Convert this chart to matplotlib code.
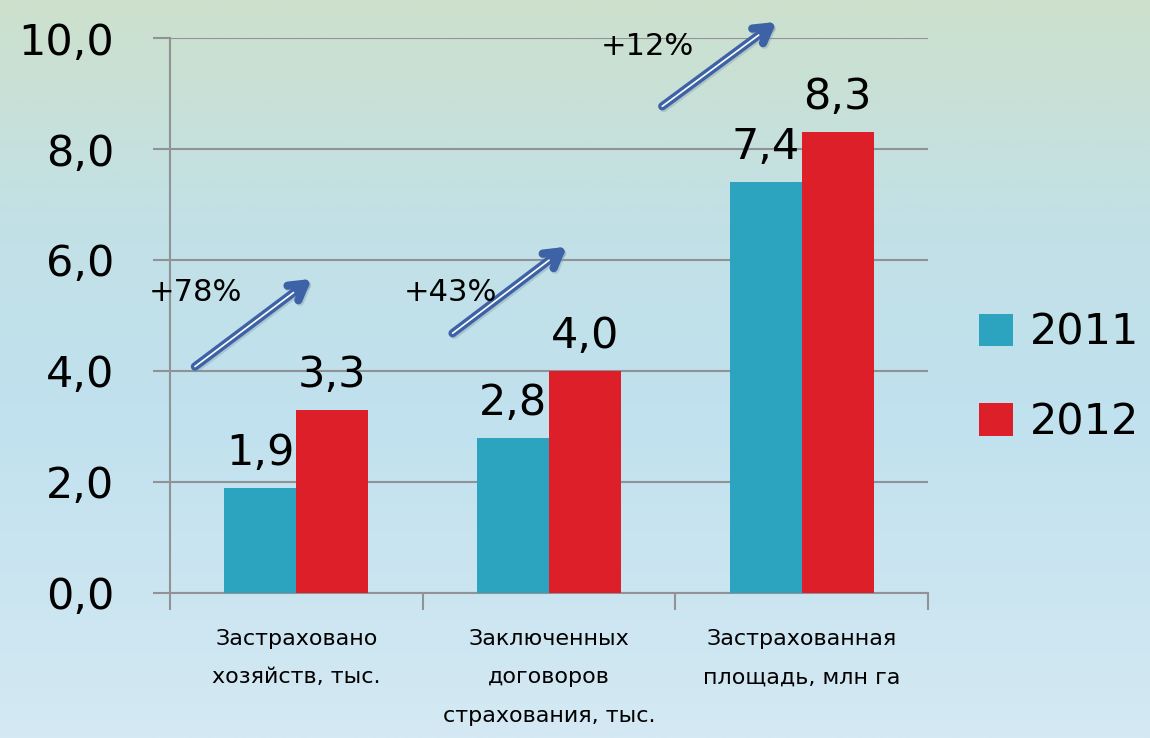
import matplotlib.pyplot as plt
import numpy as np
from matplotlib.colors import LinearSegmentedColormap

categories = ['Застраховано\nхозяйств, тыс.', 'Заключенных\nдоговоров\nстрахования, тыс.', 'Застрахованная\nплощадь, млн га']
years = ['2011', '2012']
v2011 = [1.9, 2.8, 7.4]
v2012 = [3.3, 4.0, 8.3]
growth = ['+78%', '+43%', '+12%']
# arrow start/end and text position (data coords)
arrow_from = [(-0.41, 4.05), (0.61, 4.65), (1.44, 8.74)]
arrow_to = [(0.07, 5.69), (1.08, 6.27), (1.91, 10.32)]
text_pos = [(-0.40, 5.42), (0.61, 5.41), (1.39, 9.84)]

c11 = '#2ca3bf'
c12 = '#dc1f28'
grid_c = '#8f9396'

fig = plt.figure(figsize=(11.5, 7.38), dpi=100)

# background gradient
bg = fig.add_axes([0, 0, 1, 1], zorder=-10)
cmap = LinearSegmentedColormap.from_list('bg', [(0, '#cde0cc'), (0.3, '#c2e0e6'), (0.55, '#c0e1ee'), (1, '#d4e9f3')])
bg.imshow(np.linspace(0, 1, 256).reshape(-1, 1), aspect='auto', cmap=cmap, extent=[0, 1, 0, 1])
bg.axis('off')

ax = fig.add_axes([0.1478, 0.1965, 0.659, 0.752])
ax.patch.set_alpha(0)
x = np.arange(len(categories))
w = 0.285
b1 = ax.bar(x - w / 2, v2011, w, color=c11, label=years[0], zorder=3)
b2 = ax.bar(x + w / 2, v2012, w, color=c12, label=years[1], zorder=3)

for bars, vals in ((b1, v2011), (b2, v2012)):
    for r, v in zip(bars, vals):
        ax.text(r.get_x() + r.get_width() / 2, v + 0.25, f'{v:.1f}'.replace('.', ','),
                ha='center', va='bottom', fontsize=31, zorder=5)

ax.set_xlim(-0.5, 2.5)
ax.set_ylim(0, 10)
ax.set_yticks(np.arange(0, 10.1, 2))
ax.set_yticklabels([f'{t:.1f}'.replace('.', ',') for t in np.arange(0, 10.1, 2)], fontsize=31)
ax.grid(axis='y', color=grid_c, lw=1.5, zorder=0)
ax.tick_params(axis='y', length=12, width=1.5, color=grid_c, pad=28)
ax.set_xticks(x)
ax.set_xticklabels(categories, fontsize=16, linespacing=2.15, va='top')
ax.tick_params(axis='x', length=0, pad=26)
ax.set_xticks([-0.5, 0.5, 1.5, 2.5], minor=True)
ax.tick_params(axis='x', which='minor', length=12, width=1.5, color=grid_c)
for s in ['top', 'right']:
    ax.spines[s].set_visible(False)
for s in ['left', 'bottom']:
    ax.spines[s].set_color(grid_c)
    ax.spines[s].set_linewidth(1.5)

astyle = '->,head_length=1.1,head_width=0.65'
for (x0, y0), (x1, y1), (tx, ty), g in zip(arrow_from, arrow_to, text_pos, growth):
    ax.annotate('', xy=(x1 + 0.006, y1 - 0.03), xytext=(x0 + 0.006, y0 - 0.03),
                arrowprops=dict(arrowstyle=astyle, lw=6, color='#7d97a8', alpha=0.35),
                annotation_clip=False, zorder=5)
    ax.annotate('', xy=(x1, y1), xytext=(x0, y0),
                arrowprops=dict(arrowstyle=astyle, lw=6, color='#3d63a6'),
                annotation_clip=False, zorder=6)
    ax.annotate('', xy=(x0 + (x1 - x0) * 0.85, y0 + (y1 - y0) * 0.85), xytext=(x0, y0),
                arrowprops=dict(arrowstyle='-', lw=1.2, color='white'),
                annotation_clip=False, zorder=7)
    ax.text(tx, ty, g, ha='center', va='center', fontsize=22, zorder=8)

leg = fig.legend(handles=[b1, b2], loc='center left', bbox_to_anchor=(0.851, 0.4885), frameon=False,
                 fontsize=31, handlelength=0.79, handleheight=0.79, handletextpad=0.4, labelspacing=1.1,
                 borderaxespad=0, borderpad=0)

fig.savefig('out.png', dpi=100)
